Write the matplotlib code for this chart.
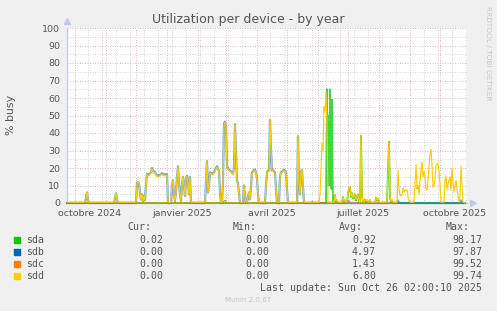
import pandas as pd
import matplotlib
matplotlib.use("Agg")
import matplotlib.pyplot as plt
from matplotlib.patches import Rectangle

W, H = 497, 311
start = pd.Timestamp("2024-09-23")

# days since start, % busy
sdd_day = [0, 18, 19, 20, 21, 22, 47, 48, 49, 50, 51, 69, 70, 71, 72, 73, 74, 75, 76, 77, 78, 79,
           80, 81, 82, 83, 84, 85, 86, 87, 88, 89, 90, 91, 92, 93, 94, 95, 96, 97, 98, 99, 100, 101,
           104, 105, 106, 107, 108, 109, 110, 111, 112, 113, 114, 115, 116, 117, 118, 119, 120, 121,
           122, 123, 124, 138, 139, 140, 141, 142, 143, 144, 145, 146, 147, 148, 149, 150, 151, 152,
           153, 154, 155, 156, 157, 158, 159, 160, 161, 162, 163, 164, 165, 166, 167, 168, 169, 170,
           171, 172, 173, 176, 177, 178, 179, 180, 181, 182, 183, 184, 185, 186, 187, 188, 189, 190,
           191, 192, 198, 199, 200, 201, 202, 203, 204, 205, 206, 207, 208, 209, 210, 212, 213, 214,
           215, 216, 217, 218, 219, 220, 221, 230, 231, 232, 233, 234, 235, 236, 237, 252, 253, 254,
           255, 256, 257, 258, 259, 260, 261, 267, 268, 269, 270, 271, 275, 276, 277, 278, 279, 280,
           281, 282, 283, 284, 285, 286, 287, 288, 289, 290, 291, 292, 293, 294, 295, 296, 297, 298,
           299, 300, 301, 302, 303, 304, 308, 309, 310, 311, 312, 320, 321, 322, 323, 324, 325, 326,
           330, 331, 332, 333, 334, 335, 336, 337, 338, 339, 340, 341, 342, 343, 347, 348, 349, 350,
           351, 352, 353, 354, 355, 356, 357, 358, 359, 360, 361, 362, 363, 364, 365, 366, 367, 368,
           369, 370, 371, 372, 373, 374, 377, 378, 379, 380, 381, 382, 383, 384, 385, 386, 387, 388,
           389, 390, 391, 392, 393, 394, 395, 396, 398]
sdd_val = [0.5, 0.5, 3, 6.5, 2, 0.5, 0.5, 3, 5.5, 2, 0.5, 0.5, 11, 12, 11.5, 6, 2, 5, 1, 4, 1.5, 10,
           16, 16, 15.5, 16.5, 17, 19.5, 18, 17, 17.5, 16, 15, 15.5, 15, 15.5, 16, 16.5, 16, 15.5, 16, 15.5, 16, 0.5,
           0.5, 10, 13, 5, 1, 6, 15, 21, 12, 5, 1, 10, 15, 10, 4, 14, 15, 12,
           5, 15, 0.5, 0.5, 12, 24, 6, 10, 17, 16.5, 16.5, 16, 17, 18, 19.5, 20.5, 19, 18,
           6, 0.5, 0.5, 12, 45, 46, 44, 20, 19.5, 18.5, 18, 17.5, 17, 16, 20, 45, 28, 12,
           11, 5, 0.5, 0.5, 10, 4, 0.5, 0.5, 4, 6, 2, 10, 17, 17.5, 18.5, 18.5, 17, 14,
           5, 0.5, 0.5, 10, 17, 18, 18, 48, 30, 18, 18.5, 17.5, 17, 8, 0.5, 0.5, 15, 17,
           17.5, 18, 18.5, 18, 17, 8, 0.5, 0.5, 38.5, 10, 5, 18, 19, 10, 0.5, 0.5, 5, 20,
           34, 30, 55, 52, 63, 45, 0.5, 0.5, 4.5, 1, 2, 0.5, 0.5, 3.6, 1, 2, 0.5, 0.5,
           6, 8.5, 9, 4, 5.5, 3, 4, 5, 2, 4, 5, 2, 0.5, 38.5, 5, 0.5, 0.5, 2.3,
           1, 2, 0.5, 0.5, 2, 0.5, 0.5, 3.4, 2, 3, 0.5, 0.5, 20, 35, 3, 1, 2, 0.5,
           0.5, 18.5, 8, 4.5, 4, 5, 8.5, 6, 7.5, 7, 7.5, 3.6, 1, 0.5, 0.5, 12, 22, 8,
           10, 5, 13, 18, 23.5, 15, 18, 15, 8, 7.5, 13, 20, 28, 30.5, 22, 9, 10, 13,
           21.5, 22, 22.6, 18, 10, 0.5, 0.5, 13, 15.5, 8, 11, 13, 15, 7.4, 20, 12, 6, 10,
           13, 8, 4, 0.5, 5, 21, 10, 0.5, 0]

sdb_day = [0, 18, 19, 20, 21, 22, 47, 48, 49, 50, 51, 69, 70, 71, 72, 73, 74, 75, 76, 77, 78, 79,
           80, 81, 82, 83, 84, 85, 86, 87, 88, 89, 90, 91, 92, 93, 94, 95, 96, 97, 98, 99, 100, 101,
           104, 105, 106, 107, 108, 109, 110, 111, 112, 113, 114, 115, 116, 117, 118, 119, 120, 121,
           122, 123, 124, 138, 139, 140, 141, 142, 143, 144, 145, 146, 147, 148, 149, 150, 151, 152,
           153, 154, 155, 156, 157, 158, 159, 160, 161, 162, 163, 164, 165, 166, 167, 168, 169, 170,
           171, 172, 173, 176, 177, 178, 179, 180, 181, 182, 183, 184, 185, 186, 187, 188, 189, 190,
           191, 192, 198, 199, 200, 201, 202, 203, 204, 205, 206, 207, 208, 209, 210, 212, 213, 214,
           215, 216, 217, 218, 219, 220, 221, 230, 231, 232, 233, 234, 235, 236, 237, 252, 281, 282,
           283, 330, 331, 332, 393, 394, 395, 398]
sdb_val = [0, 0, 3, 6, 2, 0, 0, 3, 5.5, 2, 0, 0, 11.5, 12, 11, 6, 2, 5, 1, 4, 1.5, 10,
           16.5, 16.5, 16, 17, 17.5, 20, 18.5, 17.5, 18, 16.5, 15.5, 16, 15.5, 16, 16.5, 17, 16.5, 16, 16.5, 16, 16.5, 0,
           0, 10, 13, 5, 1, 6, 15, 21, 12, 5, 1, 10, 15, 10, 4, 14, 15.5, 12,
           5, 15, 0, 0, 12, 24, 6, 10, 17.5, 17, 17, 16.5, 17.5, 18.5, 20, 21, 19.5, 18.5,
           6, 0, 0, 12, 45.5, 46.5, 44, 20.5, 20, 19, 18.5, 18, 17.5, 16.5, 20, 45, 28, 12.5,
           11.5, 5, 0, 0, 10, 4, 0, 0, 4, 6, 2, 10, 17.5, 18, 19, 19, 17.5, 14,
           5, 0, 0, 10, 17.5, 18.5, 18.5, 47.5, 30, 18.5, 19, 18, 17.5, 8, 0, 0, 15, 17.5,
           18, 18.5, 19, 18.5, 17.5, 8, 0, 0, 38, 10, 5, 18, 19, 10, 0, 0, 0, 1,
           0, 0, 1.5, 0, 0, 1.5, 0, 0]

sda_day = [0, 244, 245, 246, 259, 260, 260.5, 261, 261.5, 262, 262.5, 263, 263.5, 264, 264.5, 265,
           265.5, 266, 267, 268, 269, 270, 271, 275, 276, 277, 278, 279, 280, 281, 282, 283, 284,
           285, 286, 287, 288, 289, 290, 291, 292, 293, 294, 295, 296, 297, 298, 299, 300, 301,
           302, 303, 304, 308, 309, 310, 311, 312, 320, 321, 322, 323, 324, 325, 326, 398]
sda_val = [0, 0, 0.8, 0, 0, 65, 10, 50, 12, 47, 10, 65, 12, 58, 8, 59,
           20, 0, 0, 4.5, 0.5, 1.5, 0, 0, 3.5, 0.5, 1.5, 0, 0, 5.5, 8.5, 9, 3.5,
           5.5, 2.5, 3.5, 5, 1.5, 3.5, 5, 1.5, 0, 38.5, 4, 0, 0, 2, 0.5, 1.5, 0,
           0, 1.5, 0, 0, 3, 1.5, 2.5, 0, 0, 19, 35, 2.5, 0.5, 1.5, 0, 0]

sdc_day = [0, 156, 157, 158, 159, 160, 211, 212, 213, 330]
sdc_val = [0, 0, 1.2, 1.5, 0.8, 0, 0, 0.8, 0, 0]

devices = ["sda", "sdb", "sdc", "sdd"]
colors = ["#00cc00", "#0066b3", "#ff8000", "#ffcc00"]
cur = ["0.02", "0.00", "0.00", "0.00"]
mins = ["0.00", "0.00", "0.00", "0.00"]
avgs = ["0.92", "4.97", "1.43", "6.80"]
maxs = ["98.17", "97.87", "99.52", "99.74"]

tick_dates = ["2024-10-16", "2025-01-16", "2025-04-16", "2025-07-16", "2025-10-16"]
tick_labels = ["octobre 2024", "janvier 2025", "avril 2025", "juillet 2025", "octobre 2025"]


def days(d):
    return start + pd.to_timedelta(d, unit="D")


def px(x, y):
    return x / W, 1 - y / H


txt = "#555555"
fig = plt.figure(figsize=(W / 100, H / 100), dpi=100, facecolor="#f0f0f0")
ax = fig.add_axes([67 / W, (H - 203) / H, 400 / W, 175 / H])
ax.set_facecolor("white")

# grid, dotted like rrdtool
dot = (0, (1, 1.5))
red, grey = "#ebb8b8", "#d8d8d8"
months = pd.date_range("2024-10-01", "2025-10-01", freq="MS")
for m in months:
    ax.axvline(m, color=red, lw=0.72, ls=dot, zorder=1)
for w in pd.date_range(days(7), days(400), freq="14D"):
    if min(abs((w - m).days) for m in months) > 1:
        ax.axvline(w, color=grey, lw=0.72, ls=dot, zorder=0.5)
for v in range(5, 100, 10):
    ax.axhline(v, color=grey, lw=0.72, ls=dot, zorder=0.5)
for v in range(10, 101, 10):
    ax.axhline(v, color=red, lw=0.72, ls=dot, zorder=1)

# the yearly view blurs overlapping lines, so the lower ones get a soft halo
series = [(sda_day, sda_val), (sdb_day, sdb_val), (sdc_day, sdc_val), (sdd_day, sdd_val)]
widths = [1.3, 1.6, 0.75, 0.85]
alphas = [0.75, 0.55, 1, 1]
for i, (d, v) in enumerate(series):
    ax.plot(days(d), v, color=colors[i], lw=widths[i], alpha=alphas[i], zorder=3 + i,
            clip_on=False)

ax.set_xlim(days(0), days(400))
ax.set_ylim(0, 100)
ax.set_yticks(range(0, 101, 10))
ax.set_xticks(pd.to_datetime(tick_dates))
ax.set_xticklabels(tick_labels)
ax.tick_params(length=0, labelsize=6.8, labelcolor=txt)
ax.tick_params(axis="y", pad=5)
ax.tick_params(axis="x", pad=4)
for s in ["top", "right"]:
    ax.spines[s].set_visible(False)
for s in ["left", "bottom"]:
    ax.spines[s].set_color("#c4c8f0")
    ax.spines[s].set_linewidth(0.9)
ax.plot([0], [1.04], marker="^", ms=4, color="#c4c8f0", transform=ax.transAxes, clip_on=False)
ax.plot([1.015], [0], marker=">", ms=4, color="#c4c8f0", transform=ax.transAxes, clip_on=False)

fig.text(*px(248, 19), "Utilization per device - by year", ha="center", va="center",
         fontsize=9, color=txt)
fig.text(*px(10.5, 115), "% busy", rotation=90, ha="center", va="center", fontsize=7.9, color=txt)
fig.text(*px(488, 53), "RRDTOOL / TOBI OETIKER", rotation=270, ha="center", va="center",
         fontsize=5.3, color="#c8c8c8")

mono = dict(family="DejaVu Sans Mono", fontsize=7.1, color=txt, va="center")
for x, h in zip([151, 257, 363, 470], ["Cur:", "Min:", "Avg:", "Max:"]):
    fig.text(*px(x, 227.5), h, ha="right", **mono)
rows = [240, 252, 264, 276]
for i, dev in enumerate(devices):
    y = rows[i]
    fig.add_artist(Rectangle(px(14, y + 3), 6 / W, 6 / H, color=colors[i], transform=fig.transFigure))
    fig.text(*px(26.5, y), dev, ha="left", **mono)
    fig.text(*px(163, y), cur[i], ha="right", **mono)
    fig.text(*px(269, y), mins[i], ha="right", **mono)
    fig.text(*px(376, y), avgs[i], ha="right", **mono)
    fig.text(*px(482, y), maxs[i], ha="right", **mono)
fig.text(*px(482, 288), "Last update: Sun Oct 26 02:00:10 2025", ha="right", **mono)
fig.text(*px(248, 300), "Munin 2.0.67", ha="center", va="center", fontsize=5, color="#c8c8c8")

fig.savefig("out.png", dpi=100, facecolor=fig.get_facecolor())
